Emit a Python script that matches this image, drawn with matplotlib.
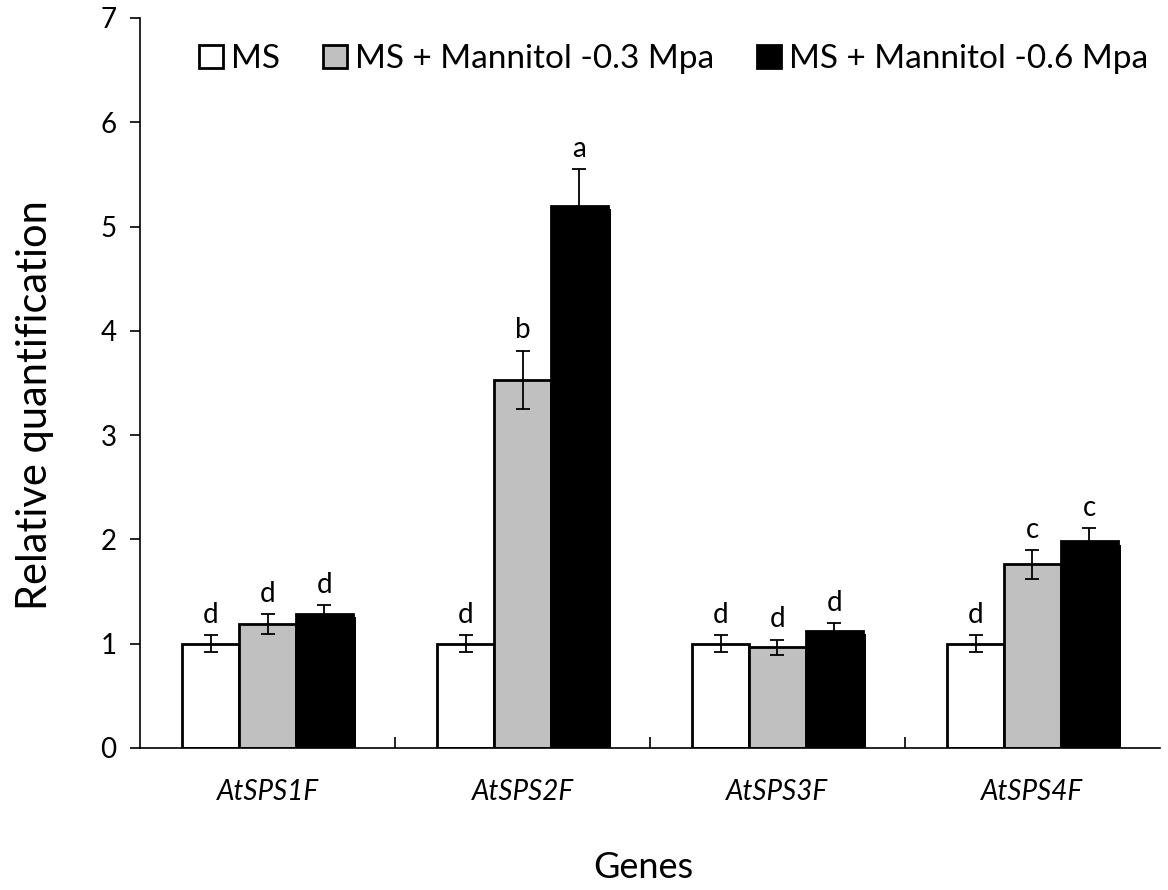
import numpy as np
import matplotlib
matplotlib.use('Agg')
import matplotlib.pyplot as plt
import matplotlib.patheffects as pe

plt.rcParams['font.family'] = ['Lato', 'DejaVu Sans']

genes = ['AtSPS1F', 'AtSPS2F', 'AtSPS3F', 'AtSPS4F']
series = ['MS', 'MS + Mannitol -0.3 Mpa', 'MS + Mannitol -0.6 Mpa']
ms_vals = [1.0, 1.0, 1.0, 1.0]
m03_vals = [1.19, 3.53, 0.965, 1.76]
m06_vals = [1.285, 5.20, 1.125, 1.98]
ms_err = [0.08, 0.08, 0.08, 0.08]
m03_err = [0.095, 0.28, 0.075, 0.14]
m06_err = [0.085, 0.35, 0.07, 0.125]
ms_letters = ['d', 'd', 'd', 'd']
m03_letters = ['d', 'b', 'd', 'c']
m06_letters = ['d', 'a', 'd', 'c']

colors = ['white', '#c0c0c0', 'black']

fig = plt.figure(figsize=(11.68, 8.9), dpi=100)
ax = fig.add_axes([0.12, 0.1596, 0.873, 0.8202])

x = np.arange(len(genes))
w = 0.223
vals = [ms_vals, m03_vals, m06_vals]
errs = [ms_err, m03_err, m06_err]
letters = [ms_letters, m03_letters, m06_letters]

for i in range(3):
    pos = x + (i - 1) * w
    bars = ax.bar(pos, vals[i], w, color=colors[i], edgecolor='black', linewidth=2,
                  label=series[i], zorder=2)
    if i == 2:
        # slight drop shadow on the dark bars, as in the original figure
        for b in bars:
            b.set_path_effects([pe.SimplePatchShadow(offset=(2.5, -2.5), shadow_rgbFace='black', alpha=1.0),
                                pe.Normal()])
    ax.errorbar(pos, vals[i], yerr=errs[i], fmt='none', ecolor='black', elinewidth=1.3,
                capsize=5, capthick=1.3, zorder=3)
    for p, v, e, t in zip(pos, vals[i], errs[i], letters[i]):
        ax.text(p, v + e + 0.07, t, ha='center', va='bottom', fontsize=20)

ax.set_xlim(-0.5, 3.5)
ax.set_ylim(0, 7)
ax.set_yticks(range(0, 8))
ax.tick_params(axis='y', labelsize=20, length=7, width=1.2, direction='out', pad=10)
ax.set_xticks(x)
ax.set_xticklabels(genes, fontsize=20, fontstyle='italic')
ax.tick_params(axis='x', length=0, pad=22)
ax.set_xticks([0.5, 1.5, 2.5], minor=True)
ax.tick_params(axis='x', which='minor', direction='in', length=8, width=1.2)

for s in ['top', 'right']:
    ax.spines[s].set_visible(False)
ax.spines['left'].set_linewidth(1.2)
ax.spines['bottom'].set_linewidth(1.2)

ax.set_ylabel('Relative quantification', fontsize=30, va='center')
ax.yaxis.set_label_coords(-0.103, 0.47)
ax.set_xlabel('Genes', fontsize=26, va='center')
ax.xaxis.set_label_coords(0.493, -0.164)

leg = ax.legend(loc='upper right', bbox_to_anchor=(1.018, 1.005), ncol=3, frameon=False, fontsize=24,
                handlelength=0.7, handleheight=0.7, handletextpad=0.25, columnspacing=1.3)
for h in leg.legend_handles:
    h.set_path_effects([])

fig.savefig('out.png', dpi=100)
